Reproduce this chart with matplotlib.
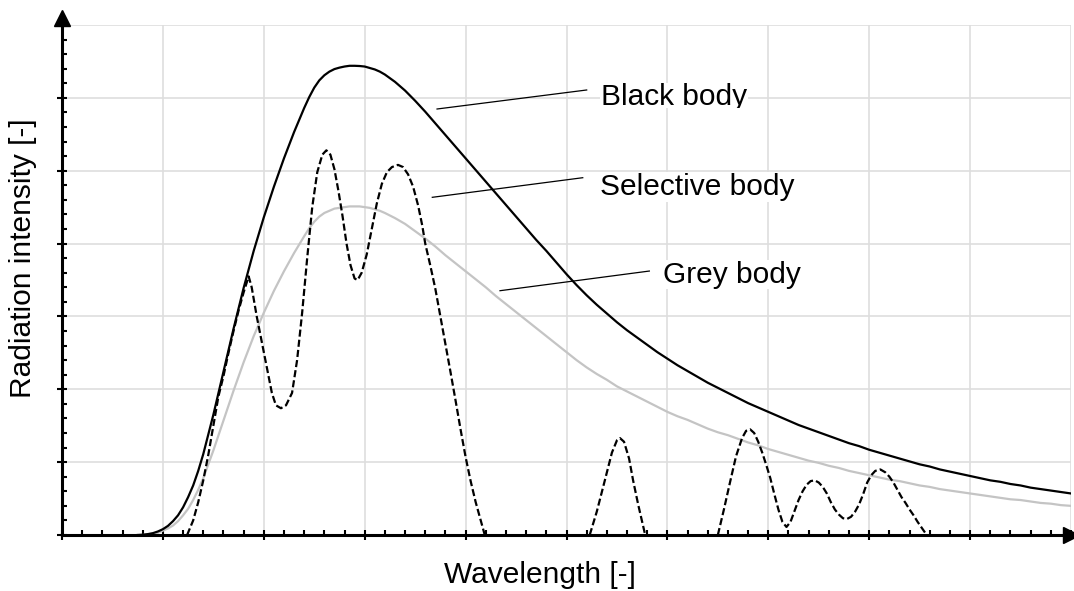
import numpy as np
import matplotlib
matplotlib.use("Agg")
import matplotlib.pyplot as plt
from matplotlib.transforms import Bbox, TransformedBbox

plt.rcParams['font.family'] = ['Liberation Sans', 'DejaVu Sans']

# spectral curves, values read in axis units (x: 0..10, y: 0..7)
body_x = [0.75, 0.80, 0.85, 0.90, 0.95, 1.00, 1.05, 1.10, 1.15, 1.20, 1.25,
          1.30, 1.35, 1.40, 1.50, 1.60, 1.70, 1.80, 1.90, 2.00, 2.10, 2.20,
          2.30, 2.40, 2.45, 2.50, 2.55, 2.60, 2.65, 2.70, 2.75, 2.80, 2.85,
          2.90, 2.95, 3.00, 3.05, 3.10, 3.15, 3.20, 3.30, 3.40, 3.50, 3.60,
          3.70, 3.80, 3.90, 4.00, 4.10, 4.20, 4.30, 4.40, 4.50, 4.60, 4.70,
          4.80, 4.90, 5.00, 5.10, 5.20, 5.30, 5.40, 5.50, 5.60, 5.70, 5.80,
          5.90, 6.00, 6.10, 6.20, 6.30, 6.40, 6.50, 6.60, 6.70, 6.80, 6.90,
          7.00, 7.10, 7.20, 7.30, 7.40, 7.50, 7.60, 7.70, 7.80, 7.90, 8.00,
          8.10, 8.20, 8.30, 8.40, 8.50, 8.60, 8.70, 8.80, 8.90, 9.00, 9.10,
          9.20, 9.30, 9.40, 9.50, 9.60, 9.70, 9.80, 9.90, 10.00]
black_y = [0.0, 0.004, 0.012, 0.025, 0.048, 0.08, 0.125, 0.19, 0.27, 0.38,
           0.52, 0.68, 0.88, 1.11, 1.65, 2.24, 2.83, 3.39, 3.90, 4.36, 4.78,
           5.17, 5.53, 5.86, 6.01, 6.14, 6.24, 6.31, 6.36, 6.395, 6.415,
           6.43, 6.44, 6.44, 6.437, 6.43, 6.41, 6.39, 6.36, 6.32, 6.22, 6.10,
           5.96, 5.81, 5.65, 5.49, 5.33, 5.17, 5.01, 4.85, 4.69, 4.53, 4.37,
           4.21, 4.05, 3.90, 3.74, 3.58, 3.43, 3.29, 3.16, 3.04, 2.92, 2.81,
           2.71, 2.61, 2.51, 2.42, 2.33, 2.25, 2.17, 2.09, 2.02, 1.95, 1.88,
           1.81, 1.75, 1.69, 1.63, 1.57, 1.51, 1.46, 1.41, 1.36, 1.31, 1.26,
           1.22, 1.17, 1.13, 1.09, 1.05, 1.01, 0.97, 0.94, 0.90, 0.87, 0.84,
           0.81, 0.78, 0.75, 0.73, 0.70, 0.68, 0.65, 0.63, 0.61, 0.59, 0.57]
grey_y = [0.0, 0.0, 0.01, 0.02, 0.03, 0.06, 0.09, 0.13, 0.19, 0.27, 0.36,
          0.48, 0.62, 0.78, 1.16, 1.57, 1.98, 2.37, 2.73, 3.05, 3.35, 3.62,
          3.87, 4.10, 4.21, 4.30, 4.37, 4.42, 4.45, 4.48, 4.49, 4.50, 4.51,
          4.51, 4.51, 4.50, 4.49, 4.47, 4.45, 4.42, 4.35, 4.27, 4.17, 4.07,
          3.96, 3.84, 3.73, 3.62, 3.51, 3.40, 3.28, 3.17, 3.06, 2.95, 2.84,
          2.73, 2.62, 2.51, 2.40, 2.30, 2.21, 2.13, 2.04, 1.97, 1.90, 1.83,
          1.76, 1.69, 1.63, 1.58, 1.52, 1.46, 1.41, 1.37, 1.32, 1.27, 1.23,
          1.18, 1.14, 1.10, 1.06, 1.02, 0.99, 0.95, 0.92, 0.88, 0.85, 0.82,
          0.79, 0.76, 0.74, 0.71, 0.68, 0.66, 0.63, 0.61, 0.59, 0.57, 0.55,
          0.53, 0.51, 0.49, 0.48, 0.46, 0.44, 0.43, 0.41, 0.40]

# selective body: emission bands, nan separates the bands
sel_x = [1.24, 1.30, 1.35, 1.40, 1.45, 1.50, 1.55, 1.60, 1.65, 1.70, 1.75,
         1.80, 1.85, 1.88, 1.93, 1.98, 2.03, 2.08, 2.12, 2.17, 2.22, 2.28,
         2.33, 2.38, 2.43, 2.48, 2.53, 2.58, 2.62, 2.66, 2.70, 2.74, 2.78,
         2.82, 2.86, 2.90, 2.93, 2.97, 3.02, 3.07, 3.12, 3.17, 3.22, 3.27,
         3.33, 3.38, 3.43, 3.48, 3.53, 3.57, 3.60, 3.65, 3.70, 3.75, 3.80,
         3.85, 3.90, 3.95, 4.00, 4.05, 4.10, 4.15, 4.19,
         np.nan,
         5.23, 5.30, 5.38, 5.45, 5.50, 5.53, 5.57, 5.62, 5.66, 5.71, 5.75,
         5.78,
         np.nan,
         6.50, 6.56, 6.62, 6.68, 6.74, 6.78, 6.82, 6.86, 6.90, 6.94, 6.98,
         7.02, 7.06, 7.10, 7.14, 7.18, 7.22, 7.26, 7.30, 7.34, 7.38, 7.42,
         7.46, 7.50, 7.54, 7.58, 7.62, 7.66, 7.70, 7.74, 7.78, 7.82, 7.86,
         7.90, 7.94, 7.98, 8.02, 8.06, 8.11, 8.16, 8.20, 8.24, 8.28, 8.32,
         8.36, 8.40, 8.44, 8.48, 8.52, 8.57]
sel_y = [0.0, 0.20, 0.45, 0.75, 1.10, 1.50, 1.90, 2.18, 2.50, 2.80, 3.08,
         3.33, 3.55, 3.40, 3.00, 2.65, 2.30, 1.95, 1.78, 1.74, 1.78, 1.95,
         2.40, 3.05, 3.80, 4.50, 4.98, 5.22, 5.28, 5.22, 5.02, 4.72, 4.38,
         4.00, 3.70, 3.52, 3.50, 3.60, 3.85, 4.20, 4.55, 4.82, 4.98, 5.05,
         5.08, 5.05, 4.95, 4.78, 4.52, 4.25, 4.00, 3.70, 3.38, 3.00, 2.62,
         2.24, 1.85, 1.45, 1.07, 0.74, 0.45, 0.20, 0.0,
         np.nan,
         0.0, 0.32, 0.75, 1.13, 1.30, 1.33, 1.28, 1.05, 0.75, 0.42, 0.18,
         0.0,
         np.nan,
         0.0, 0.35, 0.72, 1.08, 1.33, 1.43, 1.45, 1.40, 1.28, 1.13, 0.96,
         0.78, 0.56, 0.35, 0.18, 0.11, 0.18, 0.33, 0.48, 0.60, 0.69, 0.74,
         0.75, 0.72, 0.66, 0.57, 0.45, 0.35, 0.28, 0.23, 0.22, 0.25, 0.32,
         0.42, 0.56, 0.72, 0.82, 0.88, 0.90, 0.86, 0.80, 0.72, 0.62, 0.52,
         0.44, 0.35, 0.27, 0.18, 0.10, 0.0]

W, H = 1074, 591
fig = plt.figure(figsize=(W / 100, H / 100), dpi=100)
ax = fig.add_axes([62 / W, 1 - 535 / H, (1071 - 62) / W, (535 - 25) / H])

ax.plot(body_x, grey_y, color='#c4c4c4', lw=1.6, zorder=3)
ax.plot(body_x, black_y, color='black', lw=1.6, zorder=4)
ax.plot(sel_x, sel_y, color='black', lw=1.6, ls=(0, (3.2, 1.4)), zorder=4)

ax.set_xlim(0, 10)
ax.set_ylim(0, 7)
ax.set_xticks(np.arange(0, 11, 1))
ax.set_yticks(np.arange(0, 8, 1))
ax.set_xticks(np.arange(0, 10.01, 0.2), minor=True)
ax.set_yticks(np.arange(0, 7.01, 0.2), minor=True)
ax.set_xticklabels([])
ax.set_yticklabels([])
ax.tick_params(which='major', direction='inout', length=7.5, width=1.5)
ax.tick_params(which='minor', direction='in', length=3.6, width=1.5)
ax.grid(True, which='major', color='#dedede', lw=1.2)
ax.set_axisbelow(True)

for s in ['top', 'right']:
    ax.spines[s].set_visible(False)
for s in ['left', 'bottom']:
    ax.spines[s].set_linewidth(2.2)
    ax.spines[s].set_zorder(5)

# arrow heads on both axes
ax.plot(0, 7.1, marker='^', color='black', ms=11, clip_on=False, zorder=6)
ax.plot(10.0, 0, marker='>', color='black', ms=11, clip_on=False, zorder=6)
ax.plot([0, 0], [7, 7.05], color='black', lw=2.2, clip_on=False, zorder=6)

# curve labels with leader lines
box = dict(facecolor='white', edgecolor='none', pad=0.5)
labels = [("Black body", (5.342, 5.90), (3.717, 5.847), (5.200, 6.108)),
          ("Selective body", (5.332, 4.667), (3.670, 4.635), (5.161, 4.904)),
          ("Grey body", (5.959, 3.463), (4.341, 3.353), (5.821, 3.623))]
texts = []
for name, (tx, ty), p0, p1 in labels:
    ax.plot([p0[0], p1[0]], [p0[1], p1[1]], color='black', lw=0.9, zorder=4)
    t = ax.text(tx, ty, name, fontsize=21.5, ha='left', va='baseline',
                bbox=box, zorder=7)
    texts.append(t)

# the black body label sits in a box that cuts its descender
clip = TransformedBbox(Bbox([[5.0, 5.865], [9.0, 7.5]]), ax.transData)
texts[0].set_clip_box(clip)
texts[0].set_clip_on(True)
texts[0].get_bbox_patch().set_clip_box(clip)
texts[0].get_bbox_patch().set_clip_on(True)

fig.text(539.5 / W, 1 - 583 / H, "Wavelength [-]", fontsize=21.5,
         ha='center', va='baseline')
fig.text(23 / W, 1 - 258 / H, "Radiation intensity [-]", fontsize=21.5,
         ha='center', va='center', rotation=90)

fig.savefig("out.png", dpi=100)
